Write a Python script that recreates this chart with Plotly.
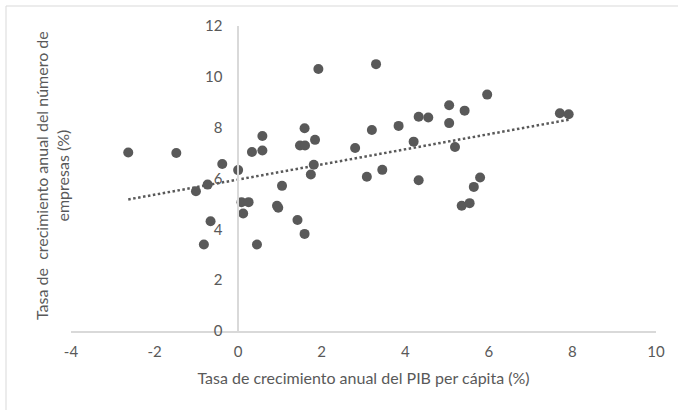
import numpy as np
import plotly.graph_objects as go

# Data (x: GDP per capita growth %, y: firm count growth %)
pib_growth = [-2.63, -1.48, -1.01, -0.82, -0.73, -0.66, -0.38, 0.00, 0.08, 0.12,
              0.25, 0.33, 0.45, 0.58, 0.58, 0.93, 0.96, 1.05, 1.42, 1.48,
              1.60, 1.59, 1.59, 1.74, 1.81, 1.84, 1.92, 2.80, 3.08, 3.20,
              3.30, 3.45, 3.84, 4.20, 4.32, 4.32, 4.55, 5.05, 5.05, 5.19,
              5.35, 5.42, 5.54, 5.64, 5.79, 5.96, 7.70, 7.91]
empresas_growth = [7.02, 7.00, 5.50, 3.40, 5.76, 4.32, 6.57, 6.33, 5.07, 4.62,
                   5.07, 7.04, 3.40, 7.67, 7.10, 4.93, 4.85, 5.71, 4.37, 7.30,
                   7.30, 7.98, 3.82, 6.16, 6.54, 7.52, 10.31, 7.20, 6.07, 7.91,
                   10.50, 6.34, 8.07, 7.45, 8.43, 5.93, 8.40, 8.88, 8.18, 7.24,
                   4.93, 8.67, 5.03, 5.67, 6.04, 9.30, 8.57, 8.53]

x_ticks = [-4, -2, 0, 2, 4, 6, 8, 10]
y_ticks = [0, 2, 4, 6, 8, 10, 12]

x_title = "Tasa de crecimiento anual del PIB per cápita (%)"
y_title = "Tasa de  crecimiento anual del número de<br>empresas (%)"

# Linear trend line
slope, intercept = np.polyfit(pib_growth, empresas_growth, 1)
tx = np.array([min(pib_growth), max(pib_growth)])
ty = slope * tx + intercept

GRAY = "#595959"
AXIS = "#d9d9d9"
FONT = "Lato"

fig = go.Figure()
fig.add_trace(go.Scatter(
    x=tx, y=ty, mode="lines",
    line=dict(color=GRAY, width=2.5, dash="2.5px,2.5px"),
    hoverinfo="skip", showlegend=False,
))
fig.add_trace(go.Scatter(
    x=pib_growth, y=empresas_growth, mode="markers",
    marker=dict(color=GRAY, size=10, line=dict(width=0)),
    showlegend=False,
))

fig.update_layout(
    width=678, height=410,
    margin=dict(l=71, r=22, t=26, b=79),
    paper_bgcolor="white", plot_bgcolor="white",
    font=dict(family=FONT, size=15, color=GRAY),
    xaxis=dict(
        range=[-4, 10], tickvals=x_ticks, ticktext=[str(v) for v in x_ticks],
        showgrid=False, zeroline=False,
        showline=True, linecolor=AXIS, linewidth=1.5,
        ticks="", ticklabelstandoff=6,
        tickfont=dict(family=FONT, size=15, color=GRAY),
        title=dict(text=x_title, font=dict(family=FONT, size=16, color=GRAY), standoff=14),
    ),
    yaxis=dict(
        range=[0, 12], tickvals=y_ticks, ticktext=[str(v) for v in y_ticks],
        showgrid=False, zeroline=False,
        showline=True, linecolor=AXIS, linewidth=1.5,
        anchor="free", position=4 / 14,
        ticks="", ticklabelstandoff=12,
        tickfont=dict(family=FONT, size=15, color=GRAY),
    ),
    annotations=[dict(
        text=y_title, xref="paper", yref="paper",
        x=(52 - 71) / 585, y=(331 - 176) / 305,
        textangle=-90, showarrow=False, align="center",
        font=dict(family=FONT, size=16, color=GRAY),
        xanchor="center", yanchor="middle",
    )],
    shapes=[dict(
        type="rect", xref="paper", yref="paper",
        x0=(6 - 71) / 585, x1=(690 - 71) / 585,
        y0=(331 - 420) / 305, y1=(331 - 6) / 305,
        line=dict(color="#d9d9d9", width=1), fillcolor="rgba(0,0,0,0)", layer="below",
    )],
)

fig.write_html("out.html", config={"displayModeBar": False},
               post_script="document.body.style.margin='0';")
